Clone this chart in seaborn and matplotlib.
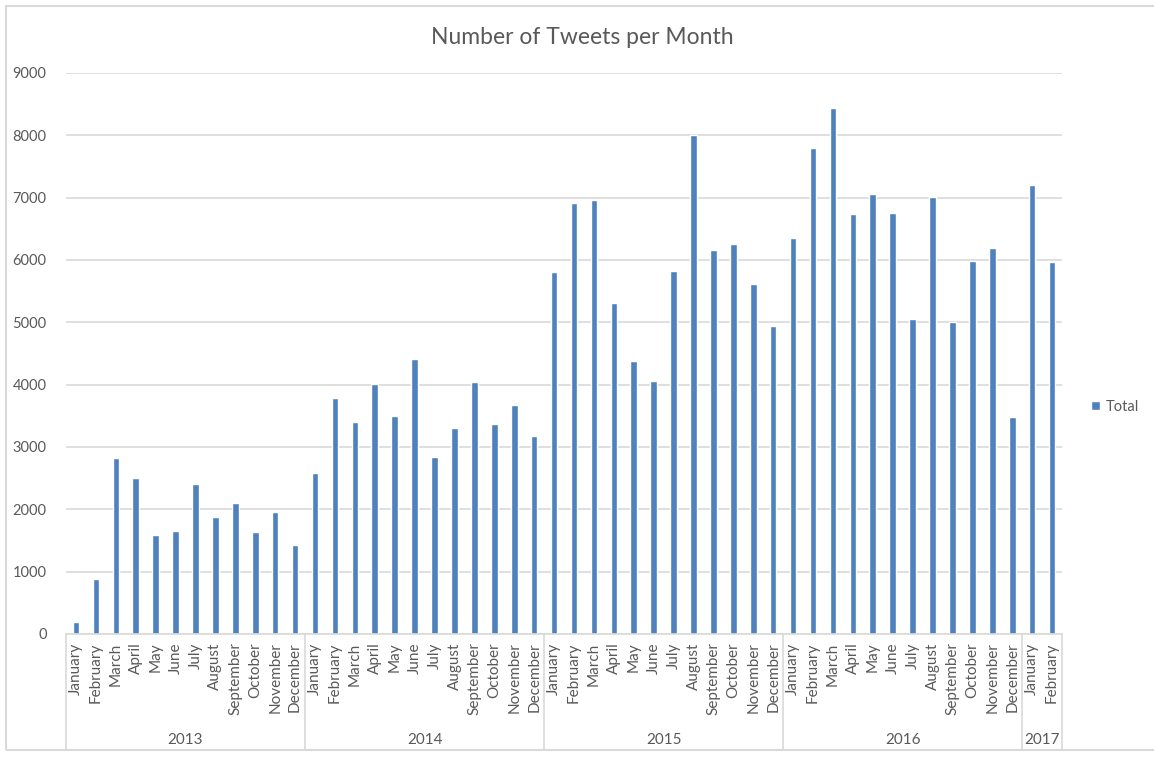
import matplotlib
matplotlib.use("Agg")
import matplotlib.pyplot as plt
import matplotlib.transforms as mtransforms
from matplotlib.patches import Rectangle
import pandas as pd
import seaborn as sns

years = ["2013", "2014", "2015", "2016", "2017"]
months = ["January", "February", "March", "April", "May", "June", "July",
          "August", "September", "October", "November", "December"]
months_per_year = [12, 12, 12, 12, 2]

tweets_2013 = [190, 885, 2830, 2510, 1580, 1660, 2410, 1870, 2105, 1635, 1955, 1425]
tweets_2014 = [2575, 3780, 3395, 4005, 3490, 4415, 2845, 3300, 4050, 3370, 3680, 3170]
tweets_2015 = [5815, 6915, 6955, 5310, 4375, 4053, 5830, 8000, 6165, 6260, 5622, 4943]
tweets_2016 = [6360, 7790, 8445, 6730, 7065, 6748, 5055, 7010, 5000, 5988, 6195, 3483]
tweets_2017 = [7208, 5971]

all_values = [tweets_2013, tweets_2014, tweets_2015, tweets_2016, tweets_2017]

rows = []
for year, n, vals in zip(years, months_per_year, all_values):
    for m, v in zip(months[:n], vals):
        rows.append({"Period": f"{year} {m}", "Month": m, "Year": year, "Tweets": v})
df = pd.DataFrame(rows)

sns.set_style("white")
plt.rcParams["font.family"] = ["Lato", "DejaVu Sans"]

grey = "#595959"
bar_color = "#4F81BD"

fig = plt.figure(figsize=(11.54, 7.57), dpi=100)
ax = fig.add_axes([0.0572, 0.1625, 0.8631, 0.7411])

sns.barplot(data=df, x="Period", y="Tweets", color=bar_color, width=0.33,
            saturation=1, ax=ax, label="Total")

ax.set_xlim(-0.5, len(df) - 0.5)
ax.set_ylim(0, 9000)
ax.set_yticks(range(0, 9001, 1000))
ax.tick_params(axis="y", labelsize=10.5, labelcolor=grey, length=0, pad=14)
ax.set_xticks(range(len(df)))
ax.set_xticklabels(df["Month"], rotation=90, fontsize=11, color=grey)
ax.tick_params(axis="x", length=0, pad=6)
ax.set_xlabel("")
ax.set_ylabel("")

ax.yaxis.grid(True, color="#d9d9d9", linewidth=1.2)
ax.set_axisbelow(True)
for s in ["top", "right", "left"]:
    ax.spines[s].set_visible(False)
ax.spines["bottom"].set_color("#d9d9d9")
ax.spines["bottom"].set_linewidth(1.2)

# year grouping below month labels
trans = mtransforms.blended_transform_factory(ax.transData, ax.transAxes)
start = 0
bounds = [-0.5]
for year, n in zip(years, months_per_year):
    center = start + (n - 1) / 2
    ax.text(center, -0.189, year, transform=trans, ha="center", va="center",
            fontsize=11, color=grey)
    start += n
    bounds.append(start - 0.5)
for b in bounds:
    ax.plot([b, b], [0, -0.207], transform=trans, color="#d9d9d9",
            linewidth=1.2, clip_on=False)

fig.text(0.505, 0.951, "Number of Tweets per Month", fontsize=16.5, color=grey,
         ha="center", va="center")

leg = ax.legend(loc="center left", bbox_to_anchor=(0.934, 0.463),
                bbox_transform=fig.transFigure, frameon=False,
                handlelength=0.6, handleheight=0.6, handletextpad=0.4,
                fontsize=10.5)
for t in leg.get_texts():
    t.set_color(grey)

fig.patches.append(Rectangle((0.005, 0.009), 1.2, 0.983, transform=fig.transFigure,
                             fill=False, edgecolor="#d9d9d9", linewidth=1.5))

fig.savefig("out.png", dpi=100)
